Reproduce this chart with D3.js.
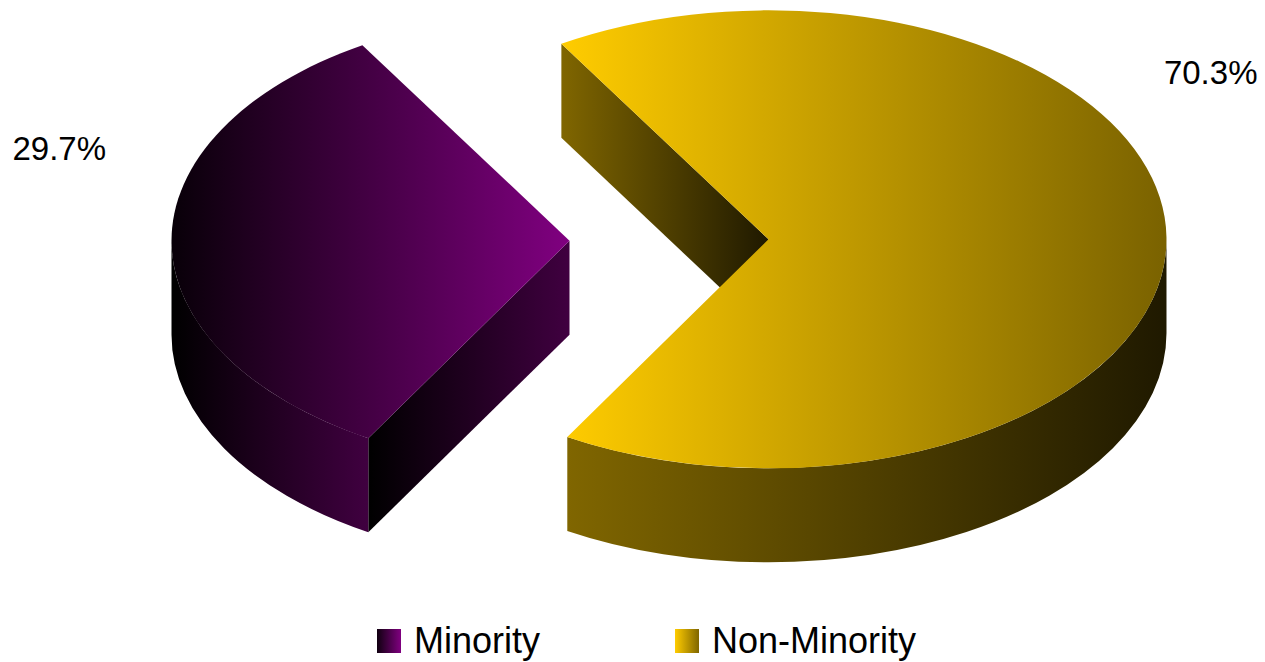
<!DOCTYPE html>
<html><head><meta charset="utf-8">
<script src="https://cdn.jsdelivr.net/npm/d3@7"></script>
<style>body{margin:0;background:#fff}svg{display:block}</style>
</head><body>
<script>
// ---- data ----
const categories = ["Minority", "Non-Minority"];
const values = [29.7, 70.3];
// ---- styles ----
const topColors  = [["#080008", "#800080"], ["#FFCC00", "#7a6200"]];
const sideColors = [["#000000", "#400040"], ["#806600", "#1f1900"]];
const legendColors = [["#100010", "#800080"], ["#FFCC00", "#806600"]];

// ---- layout ----
const W = 1265, H = 662;
const cx = 669, cy = 240, rx = 398, ry = 229, depth = 94;
const explode = 0.25, k = 1.24, firstSlice = 216;
const labelOffsets = [[-557, -81, "start"], [489, -155, "end"]];
const FONT = "'Liberation Sans', Arial, sans-serif";

const svg = d3.select("body").append("svg").attr("width", W).attr("height", H);
svg.append("rect").attr("width", W).attr("height", H).attr("fill", "#fff");
const defs = svg.append("defs");
let gid = 0;
function grad(stops) {
  const id = "g" + (gid++);
  const g = defs.append("linearGradient").attr("id", id)
    .attr("x1", "0%").attr("x2", "100%").attr("y1", "0%").attr("y2", "0%");
  g.append("stop").attr("offset", "0%").attr("stop-color", stops[0]);
  g.append("stop").attr("offset", "100%").attr("stop-color", stops[1]);
  return `url(#${id})`;
}

const total = d3.sum(values);
const a0 = firstSlice * Math.PI / 180;
const pie = d3.pie().sort(null).value(d => d).startAngle(a0).endAngle(a0 + 2 * Math.PI);
const arcs = pie(values);
const fmt = d3.format(".1%");

function warp(a) {
  const psi = a - Math.PI / 2;
  let phi = Math.atan2(k * Math.sin(psi), Math.cos(psi));
  phi += 2 * Math.PI * Math.round((psi - phi) / (2 * Math.PI));
  return phi;
}

const g = svg.append("g");
arcs.forEach((d, i) => {
  const ps = warp(d.startAngle), pe = warp(d.endAngle), pm = warp((d.startAngle + d.endAngle) / 2);
  const ox = cx + explode * rx * Math.cos(pm), oy = cy + explode * ry * Math.sin(pm);
  const P = (phi, z) => [ox + rx * Math.cos(phi), oy + ry * Math.sin(phi) + z];
  const sideFill = sideColors[i], topFill = topColors[i];

  // cut faces
  [[ps, Math.cos(ps) < 0], [pe, Math.cos(pe) > 0]].forEach(([phi, vis]) => {
    if (!vis) return;
    const r0 = P(phi, 0), r1 = P(phi, depth);
    const p = d3.path();
    p.moveTo(ox, oy); p.lineTo(r0[0], r0[1]); p.lineTo(r1[0], r1[1]); p.lineTo(ox, oy + depth); p.closePath();
    g.append("path").attr("d", p.toString()).attr("fill", grad(sideFill));
  });

  // curved outer sides (front half only)
  for (let n = -1; n <= 2; n++) {
    const lo = Math.max(ps, 2 * Math.PI * n), hi = Math.min(pe, 2 * Math.PI * n + Math.PI);
    if (hi - lo <= 1e-6) continue;
    const t0 = P(lo, 0), t1 = P(hi, 0), b1 = P(hi, depth), b0 = P(lo, depth);
    const dstr = `M${t0}A${rx},${ry} 0 0 1 ${t1}L${b1}A${rx},${ry} 0 0 0 ${b0}Z`;
    g.append("path").attr("d", dstr).attr("fill", grad(sideFill));
  }

  // top face
  const s0 = P(ps, 0), s1 = P(pe, 0);
  const large = (pe - ps) > Math.PI ? 1 : 0;
  g.append("path")
    .attr("d", `M${ox},${oy}L${s0}A${rx},${ry} 0 ${large} 1 ${s1}Z`)
    .attr("fill", grad(topFill));

  // label
  const lo = labelOffsets[i];
  svg.append("text").attr("x", ox + lo[0]).attr("y", oy + lo[1])
    .attr("text-anchor", lo[2]).attr("font-family", FONT).attr("font-size", 33)
    .attr("fill", "#000").text(fmt(d.value / total));
});

// legend
const legend = svg.append("g").attr("transform", "translate(377,629)");
const lx = d3.scaleLinear().domain([0, 1]).range([0, 298]);
categories.forEach((c, i) => {
  const it = legend.append("g").attr("transform", `translate(${lx(i)},0)`);
  it.append("rect").attr("width", 24).attr("height", 24).attr("fill", grad(legendColors[i]));
  it.append("text").attr("x", 37).attr("y", 24).attr("font-family", FONT)
    .attr("font-size", 36).attr("fill", "#000").text(c);
});
</script>
</body></html>
